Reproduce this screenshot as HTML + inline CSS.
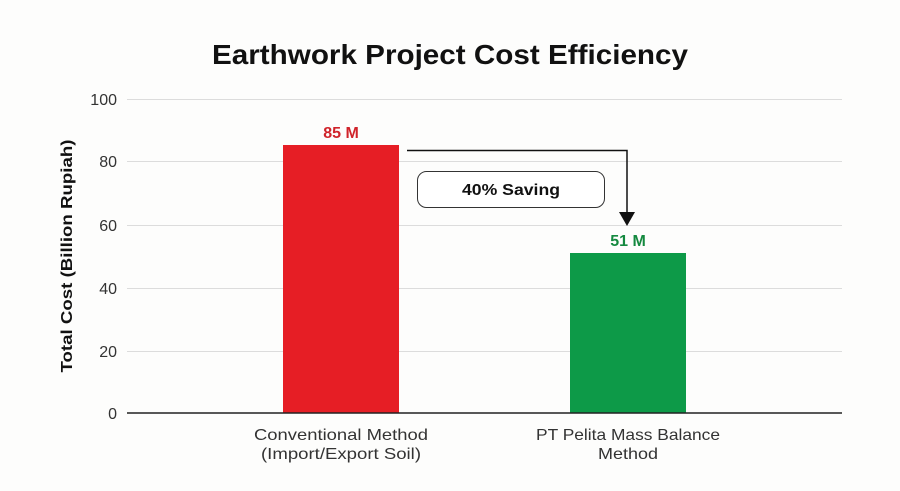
<!DOCTYPE html>
<html><head><meta charset="utf-8"><style>
body{margin:0;background:#fdfdfc;}
svg{display:block;font-family:"Liberation Sans",sans-serif;}
</style></head><body>
<svg width="900" height="491" viewBox="0 0 900 491">
<rect width="900" height="491" fill="#fdfdfc"/>
<text x="450" y="64" text-anchor="middle" font-size="28" font-weight="bold" fill="#111" textLength="476" lengthAdjust="spacingAndGlyphs">Earthwork Project Cost Efficiency</text>
<g stroke="#dcdcdc" stroke-width="1">
<line x1="127" y1="99.5" x2="842" y2="99.5"/>
<line x1="127" y1="161.5" x2="842" y2="161.5"/>
<line x1="127" y1="225.5" x2="842" y2="225.5"/>
<line x1="127" y1="288.5" x2="842" y2="288.5"/>
<line x1="127" y1="351.5" x2="842" y2="351.5"/>
</g>
<g font-size="16" fill="#333" text-anchor="end">
<text x="117" y="105">100</text>
<text x="117" y="167">80</text>
<text x="117" y="231">60</text>
<text x="117" y="294">40</text>
<text x="117" y="357">20</text>
<text x="117" y="419">0</text>
</g>
<text transform="translate(72,256) rotate(-90)" text-anchor="middle" font-size="16" font-weight="bold" fill="#111" textLength="233" lengthAdjust="spacingAndGlyphs">Total Cost (Billion Rupiah)</text>
<rect x="283" y="145" width="116" height="268" fill="#e61e25"/>
<rect x="570" y="253" width="116" height="160" fill="#0d9a48"/>
<line x1="127" y1="413" x2="842" y2="413" stroke="#222" stroke-width="1.5"/>
<text x="341" y="138" text-anchor="middle" font-size="16" font-weight="bold" fill="#d0232a">85 M</text>
<text x="628" y="246" text-anchor="middle" font-size="16" font-weight="bold" fill="#14893f">51 M</text>
<polyline points="407,150.5 627,150.5 627,215" fill="none" stroke="#111" stroke-width="1.5"/>
<polygon points="619,212 635,212 627,226" fill="#111"/>
<rect x="417.5" y="171.5" width="187" height="36" rx="9" fill="#fff" stroke="#333" stroke-width="1"/>
<text x="511" y="195" text-anchor="middle" font-size="16" font-weight="bold" fill="#111" textLength="98" lengthAdjust="spacingAndGlyphs">40% Saving</text>
<g font-size="16" fill="#333" text-anchor="middle">
<text x="341" y="440" textLength="174" lengthAdjust="spacingAndGlyphs">Conventional Method</text>
<text x="341" y="459" textLength="160" lengthAdjust="spacingAndGlyphs">(Import/Export Soil)</text>
<text x="628" y="440" textLength="184" lengthAdjust="spacingAndGlyphs">PT Pelita Mass Balance</text>
<text x="628" y="459" textLength="60" lengthAdjust="spacingAndGlyphs">Method</text>
</g>
</svg>
</body></html>
